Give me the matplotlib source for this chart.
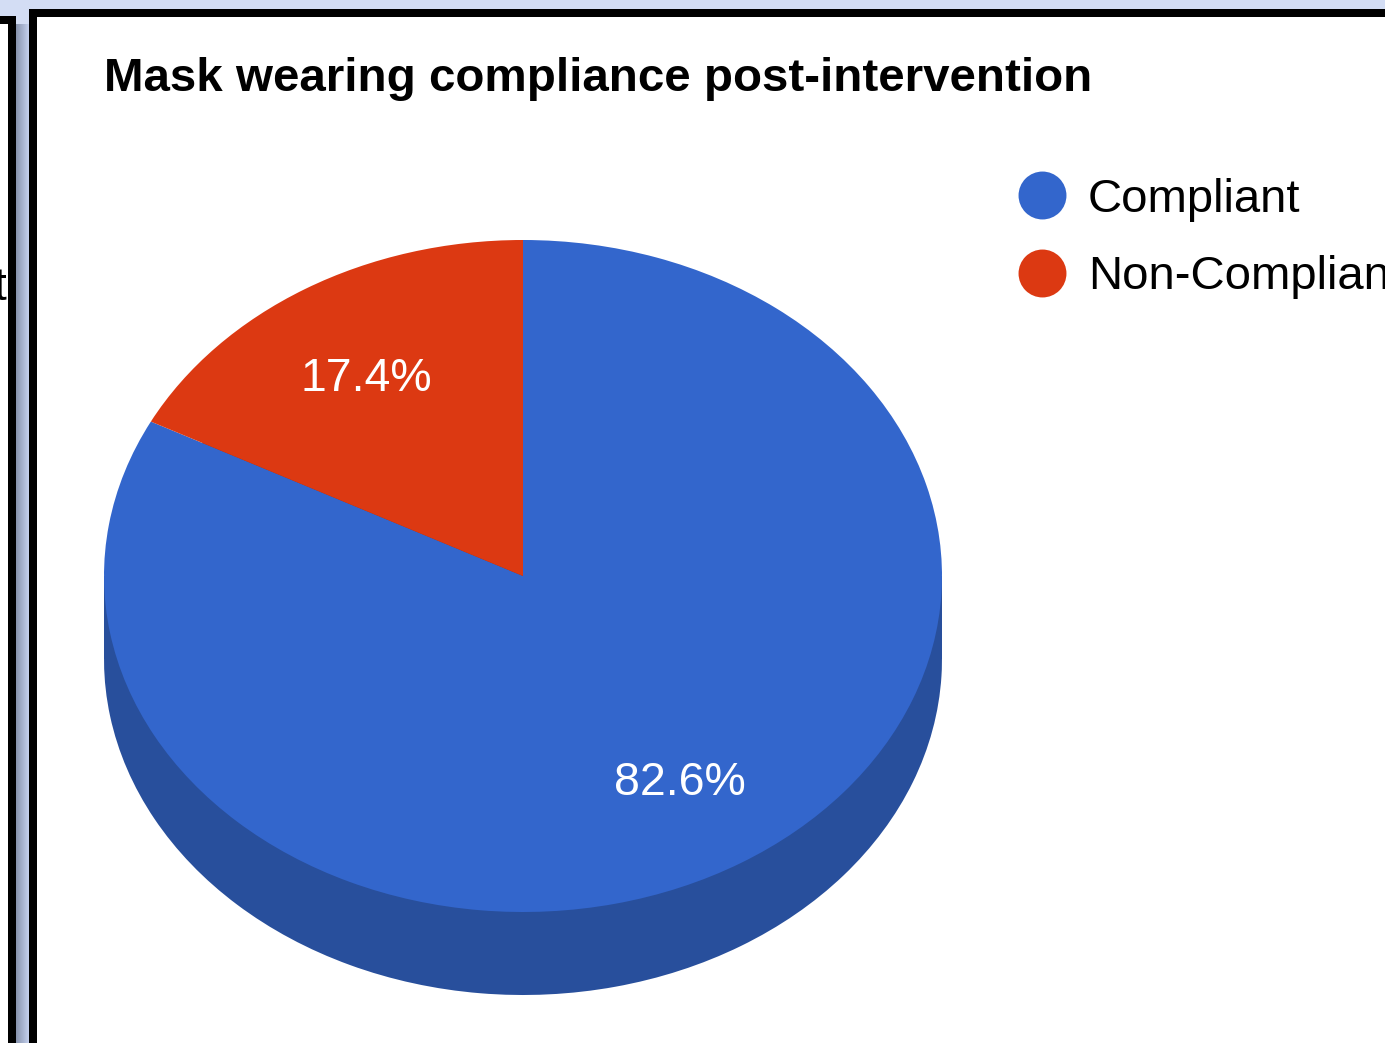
import numpy as np
import matplotlib
matplotlib.use("Agg")
import matplotlib.pyplot as plt
from matplotlib.patches import Rectangle
from matplotlib.lines import Line2D

plt.rcParams['font.family'] = ['Liberation Sans', 'DejaVu Sans']

#---------------------------------DATA
categories = ["Compliant", "Non-Compliant"]
values = [82.6, 17.4]
top_colors = ["#3366cc", "#dc3912"]
side_colors = ["#284f9c", "#a62b0e"]
title = "Mask wearing compliance post-intervention"

#---------------------------------FIGURE + window frame
W, H = 1385, 1043
fig = plt.figure(figsize=(W / 100, H / 100), dpi=100)
fig.patch.set_facecolor("#d3ddf4")

bg = fig.add_axes([0, 0, 1, 1])
bg.set_xlim(0, W)
bg.set_ylim(H, 0)
bg.axis("off")

# left (partly hidden) panel
bg.add_patch(Rectangle((0, 24), 8, H, fc="white", ec="none", zorder=1))
bg.text(0, 288, "t", fontsize=33, va="center", ha="center", color="black", zorder=2)
bg.add_patch(Rectangle((0, 16), 16, 8, fc="black", ec="none", zorder=3))
bg.add_patch(Rectangle((8, 16), 8, H, fc="black", ec="none", zorder=3))

# shadow gap between the two panels
grad = np.linspace(0, 1, 50).reshape(1, -1)
bg.imshow(grad, cmap=matplotlib.colors.LinearSegmentedColormap.from_list(
    "gap", ["#8793ad", "#c5d1ee"]), extent=(16, 29, H, 24), aspect="auto", zorder=1)

# right (main) panel
bg.add_patch(Rectangle((29, 9), W, H, fc="black", ec="none", zorder=1))
bg.add_patch(Rectangle((37, 17), W, H, fc="white", ec="none", zorder=2))

#---------------------------------TITLE
fig.text(104 / W, 1 - 91 / H, title, fontsize=34.2, fontweight="bold",
         va="baseline", ha="left", color="black")

#---------------------------------PIE (fake 3D)
top, bot, left, right = 240, 995, 104, 942
ry = 336.0                      # vertical radius of top ellipse in px
depth = (bot - top - 2 * ry) / ry  # side thickness in radius units

ax = fig.add_axes([left / W, 1 - bot / H, (right - left) / W, (bot - top) / H])

# side of the cylinder
ax.pie(values, colors=side_colors, startangle=90, counterclock=False,
       center=(0, -depth), radius=1, wedgeprops=dict(linewidth=0))
ax.add_patch(Rectangle((-1, -depth), 2, depth, fc=side_colors[0], ec="none"))

# top face
wedges, texts, autotexts = ax.pie(values, colors=top_colors, startangle=90,
                                  counterclock=False, autopct="%1.1f%%",
                                  pctdistance=0.72, radius=1,
                                  wedgeprops=dict(linewidth=0),
                                  textprops=dict(color="white", fontsize=33.5))
# small label nudge for the back slice (google puts it a bit lower)
x0, y0 = autotexts[1].get_position()
autotexts[1].set_position((x0, y0 - 0.03))

ax.set_aspect("auto")
ax.set_xlim(-1, 1)
ax.set_ylim(-1 - depth, 1)
ax.axis("off")

#---------------------------------LEGEND
handles = [Line2D([], [], marker="o", linestyle="none", markersize=34.5,
                  markerfacecolor=c, markeredgecolor="none") for c in top_colors]
fig.legend(handles, categories, loc="upper left",
           bbox_to_anchor=(1018 / W, 1 - 178 / H), frameon=False,
           fontsize=34, handlelength=1.0, handletextpad=0.48,
           labelspacing=0.7, borderpad=0, borderaxespad=0)

fig.savefig("out.png", dpi=100)
